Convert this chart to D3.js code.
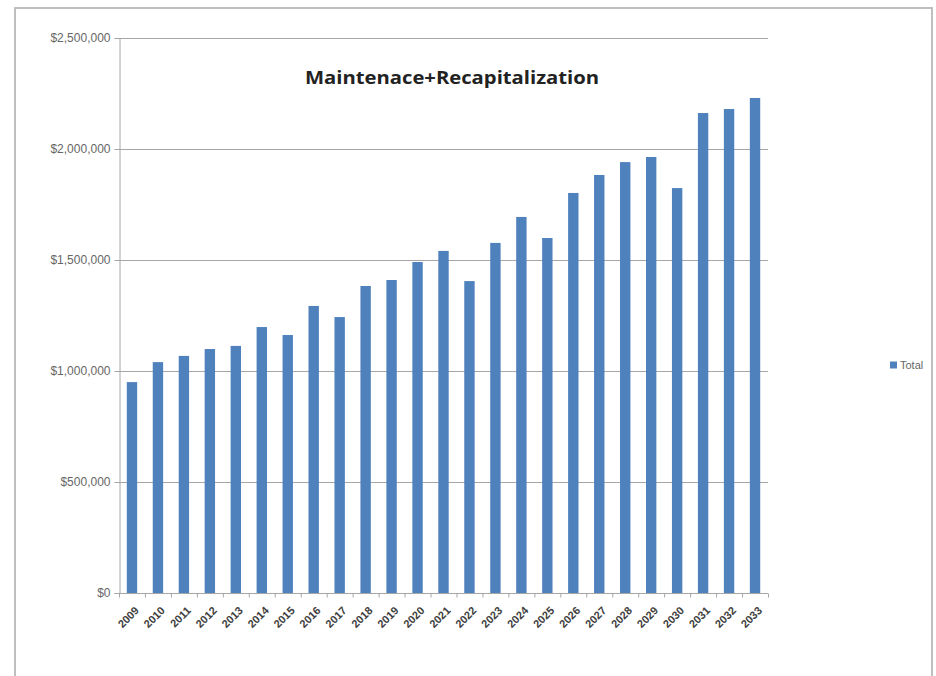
<!DOCTYPE html>
<html>
<head>
<meta charset="utf-8">
<style>
  body { margin: 0; background: #fff; }
  svg text { font-family: "Open Sans", "Liberation Sans", sans-serif; }
</style>
</head>
<body>
<div id="chart"></div>
<script src="https://cdn.jsdelivr.net/npm/d3@7"></script>
<script>
var years = ['2009','2010','2011','2012','2013','2014','2015','2016','2017','2018','2019',
             '2020','2021','2022','2023','2024','2025','2026','2027','2028','2029','2030',
             '2031','2032','2033'];
var totals = [950000, 1040000, 1068000, 1099000, 1113000, 1198000, 1162000, 1293000, 1243000,
              1383000, 1410000, 1491000, 1541000, 1405000, 1577000, 1694000, 1599000, 1802000,
              1883000, 1941000, 1964000, 1824000, 2162000, 2180000, 2230000];
var yTicks = [0, 500000, 1000000, 1500000, 2000000, 2500000];
var seriesName = 'Total';
var chartTitle = 'Maintenace+Recapitalization';

var width = 936, height = 676
  , plot = {left: 119, right: 768, top: 38, bottom: 593}
  , barColor = '#4f81bd'
  , gridColor = '#a6a6a6';

var svg = d3.select('#chart').append('svg')
  .attr('width', width)
  .attr('height', height);

// chart frame
svg.append('rect')
  .attr('x', 15).attr('y', 8)
  .attr('width', 917).attr('height', 700)
  .attr('fill', '#fff')
  .attr('stroke', '#bfbfbf')
  .attr('stroke-width', 2);

var x = d3.scaleBand()
  .domain(years)
  .range([plot.left, plot.right])
  .paddingInner(0.6)
  .paddingOuter(0.3);

var y = d3.scaleLinear()
  .domain([0, 2500000])
  .range([plot.bottom, plot.top]);

var fmt = function (d) { return '$' + d3.format(',')(d); };

// gridlines
svg.append('g')
  .selectAll('line')
  .data(yTicks.slice(1))
  .enter().append('line')
    .attr('x1', plot.left).attr('x2', plot.right)
    .attr('y1', function (d) { return y(d) + 0.5; })
    .attr('y2', function (d) { return y(d) + 0.5; })
    .attr('stroke', gridColor)
    .attr('stroke-width', 1);

// y axis
var yAxis = svg.append('g')
  .attr('transform', 'translate(' + (plot.left + 0.5) + ',0)')
  .call(d3.axisLeft(y).tickValues(yTicks).tickFormat(fmt).tickSize(5).tickPadding(4));
yAxis.select('.domain').attr('stroke', gridColor);
yAxis.selectAll('.tick line').attr('stroke', gridColor);
yAxis.selectAll('text')
  .attr('fill', '#666')
  .style('font-size', '12px')
  .style('font-family', '"Liberation Sans", sans-serif');

// bars
svg.append('g')
  .selectAll('rect')
  .data(totals)
  .enter().append('rect')
    .attr('x', function (d, i) { return x(years[i]); })
    .attr('y', function (d) { return y(d); })
    .attr('width', x.bandwidth())
    .attr('height', function (d) { return y(0) - y(d); })
    .attr('fill', barColor);

// x axis
var step = x.step();
var xAxis = svg.append('g')
  .attr('transform', 'translate(0,' + (plot.bottom + 0.5) + ')');
xAxis.append('line')
  .attr('x1', plot.left).attr('x2', plot.right)
  .attr('stroke', gridColor);
xAxis.selectAll('line.tk')
  .data(d3.range(years.length + 1))
  .enter().append('line')
    .attr('class', 'tk')
    .attr('x1', function (i) { return plot.left + i * step + 0.5; })
    .attr('x2', function (i) { return plot.left + i * step + 0.5; })
    .attr('y1', 0).attr('y2', 4)
    .attr('stroke', gridColor);
xAxis.selectAll('text')
  .data(years)
  .enter().append('text')
    .attr('transform', function (d) {
      return 'translate(' + (x(d) + x.bandwidth() / 2 + 5) + ',15) rotate(-45)';
    })
    .attr('text-anchor', 'end')
    .attr('dy', '0.35em')
    .attr('fill', '#404040')
    .style('font-size', '11px')
    .style('font-weight', 'bold')
    .style('font-family', '"Liberation Sans", sans-serif')
    .text(function (d) { return d; });

// title
svg.append('text')
  .attr('x', 452).attr('y', 84)
  .attr('text-anchor', 'middle')
  .attr('textLength', 294)
  .attr('lengthAdjust', 'spacingAndGlyphs')
  .attr('fill', '#222')
  .style('font-size', '18px')
  .style('font-weight', 'bold')
  .text(chartTitle);

// legend
var legend = svg.append('g').attr('transform', 'translate(890,365)');
legend.append('rect')
  .attr('x', 0).attr('y', -3.5)
  .attr('width', 7).attr('height', 7)
  .attr('fill', barColor);
legend.append('text')
  .attr('x', 10).attr('dy', '0.35em')
  .attr('fill', '#666')
  .style('font-size', '11px')
  .style('font-family', '"Liberation Sans", sans-serif')
  .text(seriesName);
</script>
</body>
</html>
